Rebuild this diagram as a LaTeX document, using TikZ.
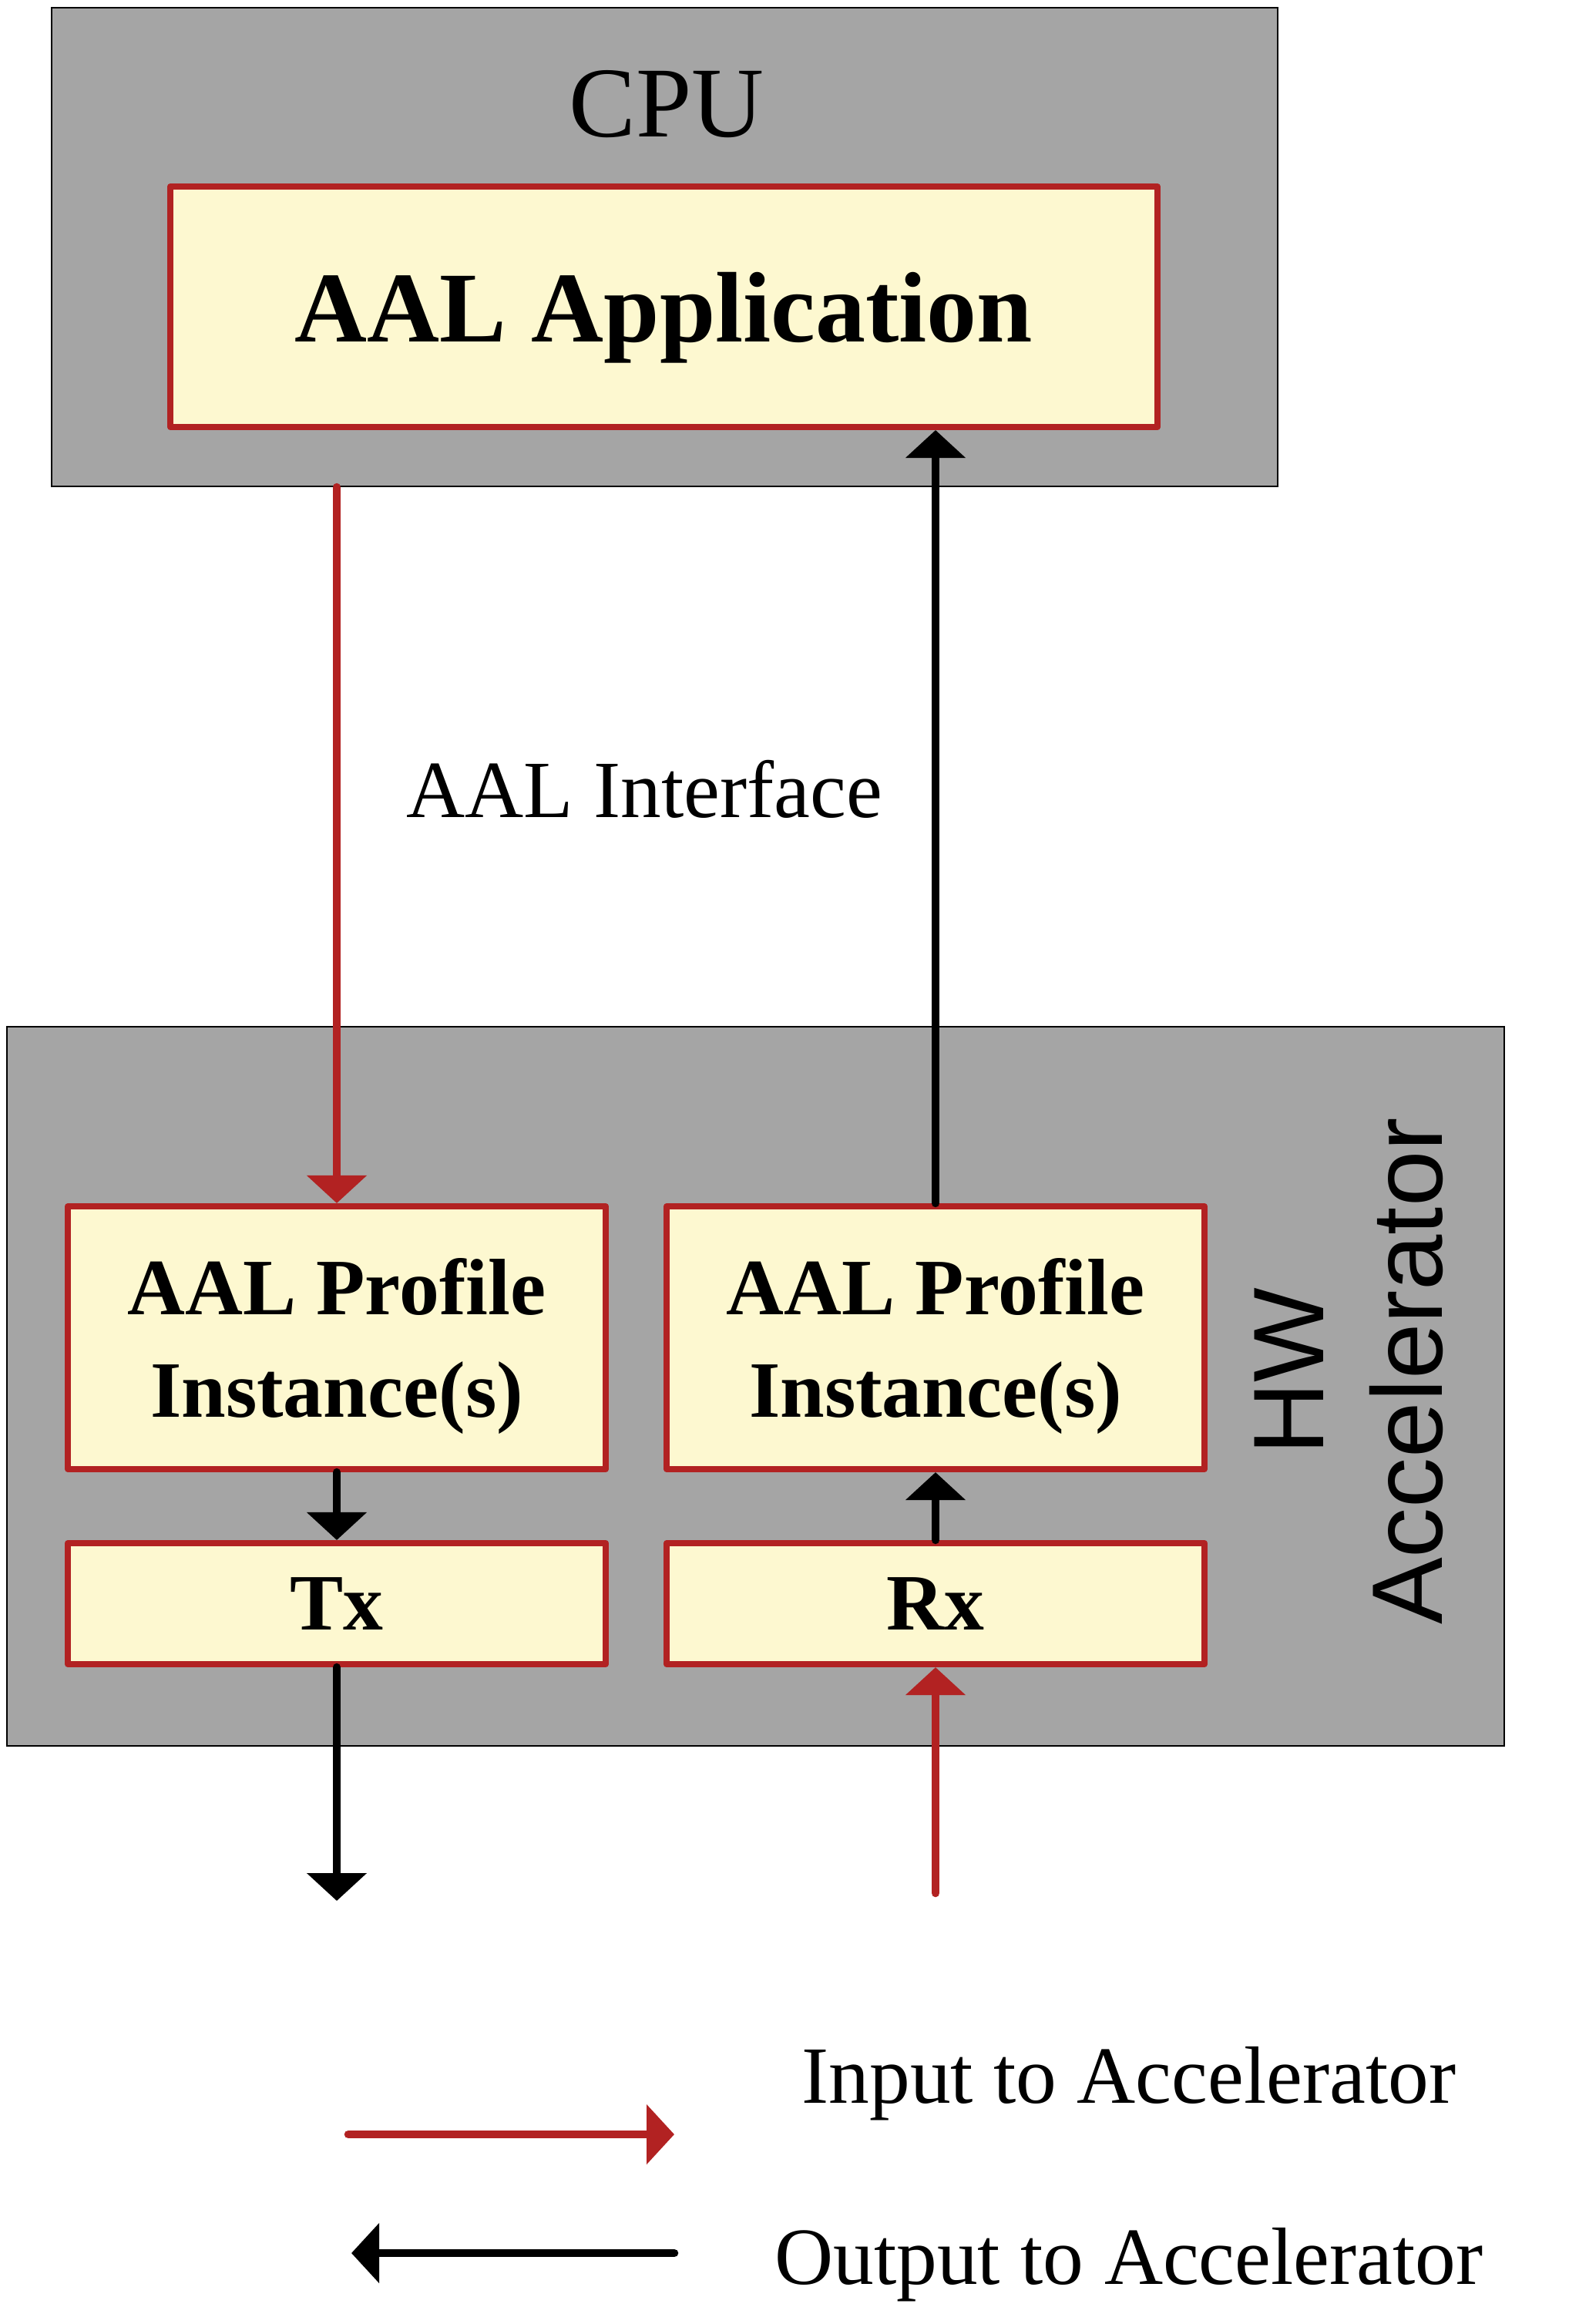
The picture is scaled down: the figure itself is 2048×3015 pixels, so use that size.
\documentclass[tikz,border=0pt]{standalone}
\usepackage{fontspec}
\setmainfont{Liberation Serif}
\newfontfamily\hwfont{Liberation Sans}
\usetikzlibrary{arrows.meta, positioning}
\usepackage{xcolor}
\definecolor{aalred}{HTML}{B22222}
\definecolor{aalyellow}{HTML}{FDF8D0}
\definecolor{aalgray}{HTML}{A5A5A5}
\def\tipsize{width=7.6mm,length=3.6mm}

\begin{document}
\begin{tikzpicture}[x=0.1mm, y=-0.1mm, line width=3pt, line cap=round]
    \tikzstyle{unit}=[rectangle, fill=aalgray, draw=black, line width=0.6pt, inner sep=0pt]
    \tikzstyle{block}=[rectangle, fill=aalyellow, draw=aalred, line width=2.3pt, line join=round, inner sep=0pt, align=center, text depth=0pt]
    \tikzstyle{profile}=[block, minimum width=69.8mm, minimum height=34.1mm, font=\fontsize{29.5}{37.6}\selectfont\bfseries]
    \tikzstyle{port}=[block, minimum width=69.8mm, minimum height=15.7mm, font=\fontsize{29.5}{36}\selectfont\bfseries]
    \tikzstyle{red arrow}=[-{Triangle[\tipsize]}, draw=aalred]
    \tikzstyle{black arrow}=[-{Triangle[\tipsize]}, draw=black]
    \tikzstyle{annot}=[font=\fontsize{30}{36}\selectfont, text depth=0pt]

    \useasboundingbox (0,0) rectangle (2048,3015);

    % Draw the CPU with the application
    \node[unit, minimum width=159.1mm, minimum height=62.1mm] (cpu) at (862.5,320.5) {};
    \node[font=\fontsize{37}{44}\selectfont] (cpu-label) at (865,135) {CPU};
    \node[block, minimum width=128.1mm, minimum height=31.2mm, font=\fontsize{37}{44}\selectfont\bfseries] (app) at (861.5,398) {AAL Application};

    % Draw the HW accelerator
    \node[unit, minimum width=194.3mm, minimum height=93.3mm] (hw) at (980.5,1798.5) {};
    \node[rotate=90, align=center, font=\hwfont\fontsize{37}{43.8}\selectfont] (hw-label) at (1750,1779) {HW\\Accelerator};

    % Draw the profile instances
    \foreach \name / \x in {1/437,2/1214}
        \node[profile] (P-\name) at (\x,1735.5) {AAL Profile\\Instance(s)};

    % Draw the Tx and Rx blocks
    \node[port] (Tx) at (437,2080.5) {Tx};
    \node[port] (Rx) at (1214,2080.5) {Rx};

    % Free ends of the outside connectors
    \coordinate (tx-out) at (437,2466);
    \coordinate (rx-in) at (1214,2456);
    \coordinate (in-start) at (452,2769);
    \coordinate (in-end) at (875,2769);
    \coordinate (out-start) at (875,2923);
    \coordinate (out-end) at (456,2923);

    % Connect the application with the profile instances
    \draw[red arrow] (P-1.north |- cpu.south) -- (P-1.north);
    \draw[black arrow] (P-2.north) -- (P-2.north |- app.south);
    \node[annot] (iface) at (836,1023) {AAL Interface};

    % Connect the profile instances with Tx and Rx
    \draw[black arrow] (P-1.south) -- (Tx.north);
    \draw[black arrow] (Rx.north) -- (P-2.south);
    \draw[black arrow] (Tx.south) -- (tx-out);
    \draw[red arrow] (rx-in) -- (Rx.south);

    % Legend
    \draw[red arrow] (in-start) -- (in-end);
    \draw[black arrow] (out-start) -- (out-end);
    \node[annot] (in-label) at (1465,2692) {Input to Accelerator};
    \node[annot] (out-label) at (1465,2927) {Output to Accelerator};
\end{tikzpicture}
\end{document}
